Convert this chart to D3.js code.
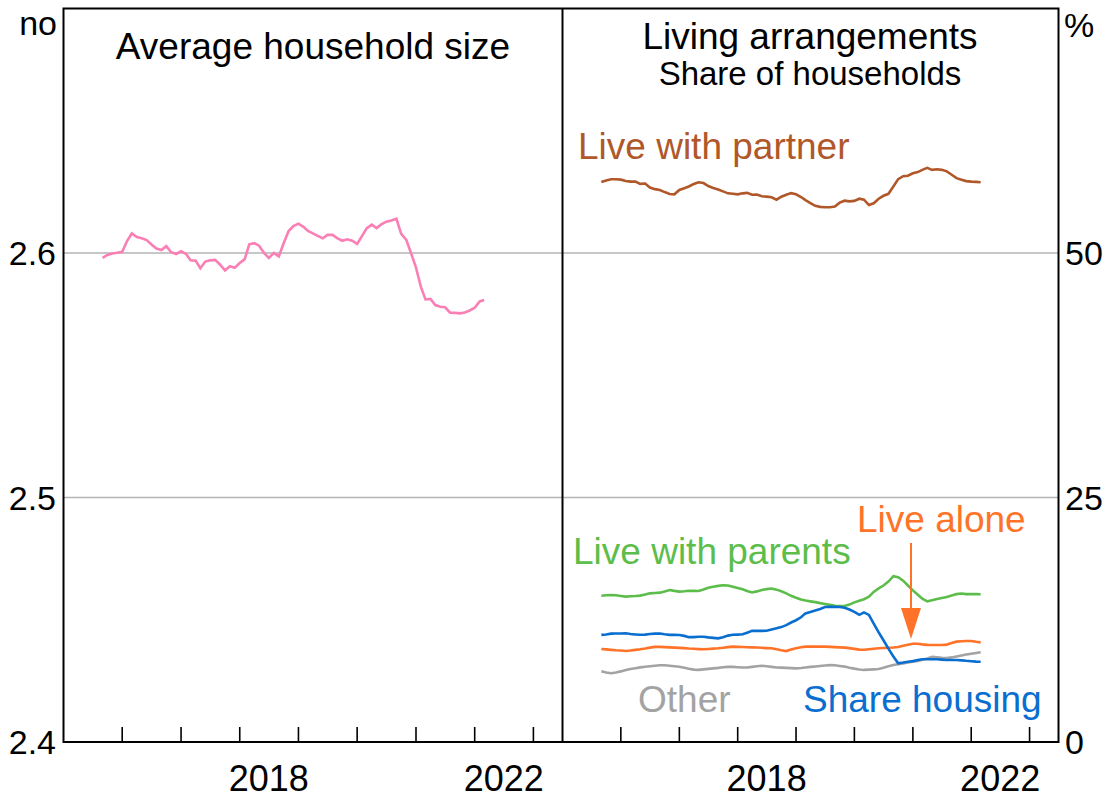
<!DOCTYPE html>
<html>
<head>
<meta charset="utf-8">
<script src="https://cdn.jsdelivr.net/npm/d3@7"></script>
<style>
  body { margin: 0; background: #fff; }
  text { font-family: "Liberation Sans", Arial, sans-serif; }
</style>
</head>
<body>
<div class="chart-wrapper"></div>
<script>
// monthly observations, Sep 2015 onwards
const startMonth = new Date(2015, 8, 1);

const householdSize = [
  2.598, 2.5992, 2.5998, 2.6001, 2.6005, 2.605, 2.608, 2.6065, 2.606, 2.6053,
  2.6035, 2.6018, 2.6012, 2.6028, 2.6003, 2.5996, 2.6007, 2.5996, 2.597, 2.5969,
  2.5938, 2.5965, 2.597, 2.5972, 2.5952, 2.5929, 2.5946, 2.594, 2.5959, 2.5975,
  2.6035, 2.604, 2.603, 2.600, 2.598, 2.600, 2.5986, 2.604, 2.609, 2.611,
  2.612, 2.6107, 2.609, 2.608, 2.607, 2.606, 2.6074, 2.6074, 2.606, 2.605,
  2.6056, 2.605, 2.6037, 2.607, 2.6102, 2.6116, 2.6102, 2.6118, 2.6128, 2.6133,
  2.614, 2.6078, 2.6055, 2.600, 2.594, 2.586, 2.581, 2.5812, 2.5787, 2.578,
  2.5778, 2.5756, 2.5755, 2.5753, 2.5757, 2.5765, 2.5776, 2.5802, 2.5808
];

const livePartner = [
  57.25, 57.42, 57.54, 57.54, 57.5, 57.36, 57.3, 57.3, 57.07, 57.1,
  56.7, 56.53, 56.44, 56.23, 56.03, 56.0, 56.45, 56.63, 56.8, 57.05,
  57.23, 57.15, 56.85, 56.65, 56.5, 56.3, 56.1, 56.05, 56.0, 56.1,
  56.15, 55.95, 55.98, 55.8, 55.76, 55.7, 55.45, 55.75, 55.95, 56.12,
  56.0, 55.72, 55.4, 55.1, 54.82, 54.72, 54.68, 54.68, 54.75, 55.15,
  55.35, 55.28, 55.33, 55.55, 55.45, 54.9, 55.08, 55.55, 55.85, 56.05,
  56.8, 57.55, 57.85, 57.9, 58.15, 58.27, 58.5, 58.7, 58.5, 58.56,
  58.5, 58.35, 58.0, 57.65, 57.5, 57.35, 57.3, 57.27, 57.23
];

const liveParents = [
  14.96, 15.0, 15.02, 15.0, 14.93, 14.87, 14.9, 14.93, 14.97, 15.08,
  15.2, 15.23, 15.27, 15.4, 15.54, 15.45, 15.38, 15.42, 15.47, 15.45,
  15.44, 15.6, 15.78, 15.88, 15.96, 16.02, 16.0, 15.87, 15.74, 15.62,
  15.45, 15.29, 15.4, 15.55, 15.63, 15.7, 15.58, 15.42, 15.2, 14.95,
  14.75, 14.57, 14.47, 14.38, 14.3, 14.2, 14.12, 14.02, 13.92, 13.9,
  13.9, 14.05, 14.28, 14.45, 14.6, 14.85, 15.35, 15.7, 16.0, 16.4,
  16.95, 16.85, 16.5, 16.0, 15.5, 15.05, 14.65, 14.38, 14.5, 14.62,
  14.72, 14.82, 14.97, 15.12, 15.18, 15.12, 15.14, 15.12, 15.1
];

const shareHousing = [
  10.95, 11.0, 11.08, 11.1, 11.1, 11.12, 11.05, 11.0, 10.96, 10.98,
  11.04, 11.08, 11.1, 11.02, 10.95, 10.95, 10.94, 10.85, 10.72, 10.72,
  10.76, 10.76, 10.7, 10.65, 10.6, 10.72, 10.88, 10.96, 10.98, 11.01,
  11.18, 11.36, 11.37, 11.36, 11.37, 11.5, 11.62, 11.75, 11.95, 12.22,
  12.45, 12.75, 13.15, 13.3, 13.45, 13.6, 13.8, 13.82, 13.82, 13.8,
  13.72, 13.55, 13.3, 13.0, 13.25, 13.0, 12.1, 11.2, 10.4, 9.55,
  8.75, 8.05, 8.12, 8.2, 8.27, 8.38, 8.46, 8.46, 8.46, 8.46,
  8.42, 8.38, 8.38, 8.38, 8.35, 8.3, 8.26, 8.22, 8.2
];

const liveAlone = [
  9.51, 9.47, 9.42, 9.38, 9.35, 9.3, 9.35, 9.42, 9.48, 9.56,
  9.65, 9.73, 9.73, 9.7, 9.68, 9.65, 9.62, 9.6, 9.56, 9.53,
  9.5, 9.48, 9.51, 9.55, 9.58, 9.63, 9.7, 9.75, 9.73, 9.71,
  9.69, 9.68, 9.66, 9.63, 9.6, 9.58, 9.48, 9.38, 9.3, 9.45,
  9.58, 9.68, 9.75, 9.75, 9.75, 9.75, 9.75, 9.73, 9.7, 9.68,
  9.65, 9.6, 9.52, 9.45, 9.43, 9.48, 9.53, 9.58, 9.61, 9.64,
  9.67, 9.72, 9.85, 9.95, 10.05, 10.05, 9.98, 9.93, 9.92, 9.92,
  9.92, 9.96, 10.12, 10.26, 10.3, 10.32, 10.33, 10.25, 10.19
];

const other = [
  7.24, 7.1, 7.03, 7.1, 7.22, 7.36, 7.47, 7.55, 7.63, 7.7,
  7.74, 7.79, 7.84, 7.85, 7.8, 7.75, 7.7, 7.6, 7.5, 7.4,
  7.38, 7.43, 7.48, 7.53, 7.58, 7.64, 7.68, 7.68, 7.65, 7.62,
  7.62, 7.68, 7.74, 7.8, 7.75, 7.68, 7.62, 7.6, 7.58, 7.55,
  7.53, 7.57, 7.62, 7.68, 7.72, 7.77, 7.82, 7.86, 7.85, 7.78,
  7.71, 7.6, 7.5, 7.42, 7.37, 7.4, 7.43, 7.46, 7.6, 7.74,
  7.88, 7.95, 8.02, 8.12, 8.2, 8.28, 8.4, 8.55, 8.72, 8.67,
  8.6, 8.58, 8.65, 8.75, 8.85, 8.95, 9.02, 9.1, 9.17
];

const tickYears = [2016, 2017, 2018, 2019, 2020, 2021, 2022, 2023];
const labelYears = [2018, 2022];
const leftTicks = [2.4, 2.5, 2.6];
const rightTicks = [0, 25, 50];

const width = 1108, height = 798;
const plotTop = 8.5, plotBottom = 742;
const leftX = [63.5, 562.5], rightX = [562.5, 1058.5];

const months = householdSize.map((d, i) => d3.timeMonth.offset(startMonth, i));

let svg = d3.select(".chart-wrapper")
  .append("svg")
  .attr("width", width)
  .attr("height", height);

svg.append("rect").attr("width", width).attr("height", height).attr("fill", "#fff");

let xLeft = d3.scaleTime()
  .domain([new Date(2015, 0, 1), new Date(2023, 6, 1)])
  .range(leftX);
let xRight = xLeft.copy().range(rightX);

let yLeft = d3.scaleLinear().domain([2.4, 2.7]).range([plotBottom, plotTop]);
let yRight = d3.scaleLinear().domain([0, 75]).range([plotBottom, plotTop]);

// gridlines
svg.selectAll(".grid")
  .data([2.5, 2.6])
  .enter()
  .append("line")
  .attr("x1", leftX[0]).attr("x2", rightX[1])
  .attr("y1", d => yLeft(d)).attr("y2", d => yLeft(d))
  .attr("stroke", "#b4b4b4")
  .attr("stroke-width", 1.6);

// year ticks
let drawTicks = (x) => {
  svg.append("g")
    .selectAll("line")
    .data(tickYears)
    .enter()
    .append("line")
    .attr("x1", d => x(new Date(d, 0, 1))).attr("x2", d => x(new Date(d, 0, 1)))
    .attr("y1", plotBottom).attr("y2", plotBottom - 15)
    .attr("stroke", "#000")
    .attr("stroke-width", 1.6);
  svg.append("g")
    .selectAll("text")
    .data(labelYears)
    .enter()
    .append("text")
    .attr("x", d => x(new Date(d, 6, 1)))
    .attr("y", 791)
    .attr("text-anchor", "middle")
    .attr("font-size", 36)
    .text(d => d);
};
drawTicks(xLeft);
drawTicks(xRight);

// frame
svg.append("path")
  .attr("d", `M${leftX[0]},${plotTop}H${rightX[1]}V${plotBottom}H${leftX[0]}Z M${leftX[1]},${plotTop}V${plotBottom}`)
  .attr("fill", "none")
  .attr("stroke", "#000")
  .attr("stroke-width", 2);

// y labels
svg.selectAll(".ylab")
  .data(leftTicks)
  .enter()
  .append("text")
  .attr("x", 56)
  .attr("y", d => yLeft(d) + 12)
  .attr("text-anchor", "end")
  .attr("font-size", 34)
  .text(d => d.toFixed(1));
svg.selectAll(".rlab")
  .data(rightTicks)
  .enter()
  .append("text")
  .attr("x", 1065)
  .attr("y", d => yRight(d) + 12)
  .attr("font-size", 34)
  .text(d => d);
svg.append("text").attr("x", 57).attr("y", 35).attr("text-anchor", "end").attr("font-size", 34).text("no");
svg.append("text").attr("x", 1064).attr("y", 37).attr("font-size", 34).text("%");

// panel titles
svg.append("text").attr("x", 313).attr("y", 59).attr("text-anchor", "middle").attr("font-size", 37)
  .text("Average household size");
svg.append("text").attr("x", 810).attr("y", 49).attr("text-anchor", "middle").attr("font-size", 37)
  .text("Living arrangements");
svg.append("text").attr("x", 810).attr("y", 85).attr("text-anchor", "middle").attr("font-size", 33)
  .text("Share of households");

// series
let lineLeft = d3.line().x((d, i) => xLeft(months[i])).y(d => yLeft(d));
let lineRight = d3.line().x((d, i) => xRight(months[i])).y(d => yRight(d));

svg.append("path").datum(householdSize).attr("d", lineLeft)
  .attr("fill", "none").attr("stroke", "#f97fb5").attr("stroke-width", 2.6);

const rightSeries = [
  [livePartner, "#b0582a"],
  [liveParents, "#5dbd4b"],
  [other, "#a3a3a3"],
  [liveAlone, "#ff7328"],
  [shareHousing, "#0a6ed0"]
];
rightSeries.forEach(s => {
  svg.append("path").datum(s[0]).attr("d", lineRight)
    .attr("fill", "none").attr("stroke", s[1]).attr("stroke-width", 2.6);
});

// series labels
let label = (x, y, txt, col) => {
  svg.append("text").attr("x", x).attr("y", y).attr("font-size", 37).attr("fill", col).text(txt);
};
label(578, 159, "Live with partner", "#b0582a");
label(573, 564, "Live with parents", "#5dbd4b");
label(857, 532, "Live alone", "#ff7328");
label(638, 712, "Other", "#a3a3a3");
label(803, 712, "Share housing", "#0a6ed0");

// arrow to live alone
svg.append("line").attr("x1", 911).attr("x2", 911).attr("y1", 543).attr("y2", 612)
  .attr("stroke", "#ff7328").attr("stroke-width", 2);
svg.append("path").attr("d", "M901,608L921,608L911,639Z").attr("fill", "#ff7328");
</script>
</body>
</html>
